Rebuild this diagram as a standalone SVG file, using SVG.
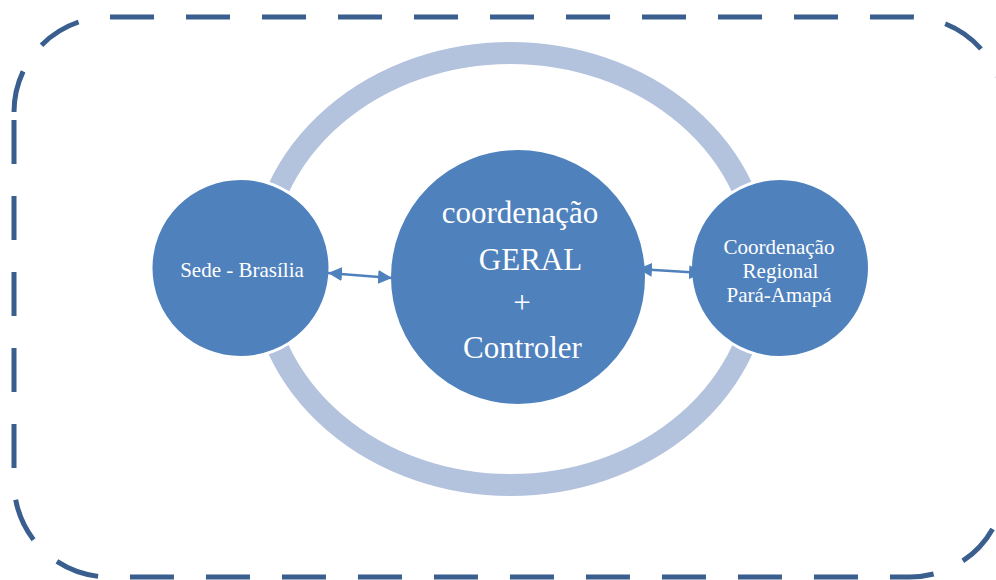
<svg xmlns="http://www.w3.org/2000/svg" width="996" height="580" viewBox="0 0 996 580">
  <style>
    .frame { fill: none; stroke: #3a5f8e; stroke-width: 5; stroke-dasharray: 44 32; stroke-dashoffset: 2; }
    .ring { fill: none; stroke: #b3c2dd; stroke-width: 22; }
    .node { fill: #4f81bd; stroke: #ffffff; stroke-width: 3; }
    .label { fill: #ffffff; font-family: "Liberation Serif", "Times New Roman", serif; text-anchor: middle; }
    .small { font-size: 21px; }
    .big { font-size: 31px; }
    .link { stroke: #4f81bd; stroke-width: 2.5; fill: none; marker-start: url(#head); marker-end: url(#head); }
  </style>
  <defs>
    <marker id="head" viewBox="0 0 14 14" markerUnits="userSpaceOnUse" markerWidth="14" markerHeight="14" refX="14" refY="7" orient="auto-start-reverse">
      <path d="M0,0 L14,7 L0,14 z" fill="#4f81bd"/>
    </marker>
  </defs>

  <!-- dashed outer frame, drawn clockwise from the top of the left side -->
  <path class="frame" d="M14,112 A95,95 0 0 1 109,17 H910 A95,95 0 0 1 1005,112 V482 A95,95 0 0 1 910,577 H109 A95,95 0 0 1 14,482 Z"/>

  <!-- ring behind the three circles -->
  <ellipse class="ring" cx="510.5" cy="269" rx="250" ry="216"/>

  <g id="sede">
    <circle class="node" cx="240.5" cy="268" r="89.5"/>
    <text class="label small" x="242" y="277">Sede - Brasília</text>
  </g>

  <g id="coordenacao-geral">
    <circle class="node" cx="518" cy="277" r="128.5"/>
    <text class="label big" x="520" y="223">coordenação</text>
    <text class="label big" x="530.5" y="270">GERAL</text>
    <text class="label big" x="522" y="313">+</text>
    <text class="label big" x="522.5" y="358">Controler</text>
  </g>

  <g id="coordenacao-regional">
    <circle class="node" cx="780" cy="268" r="89.5"/>
    <text class="label small" x="779" y="254">Coordenação</text>
    <text class="label small" x="780.5" y="278">Regional</text>
    <text class="label small" x="779" y="302">Pará-Amapá</text>
  </g>

  <!-- two-way links between the circles -->
  <g id="connectors">
    <line class="link" x1="328" y1="273" x2="392" y2="278"/>
    <line class="link" x1="638" y1="269" x2="703" y2="273"/>
  </g>
</svg>
